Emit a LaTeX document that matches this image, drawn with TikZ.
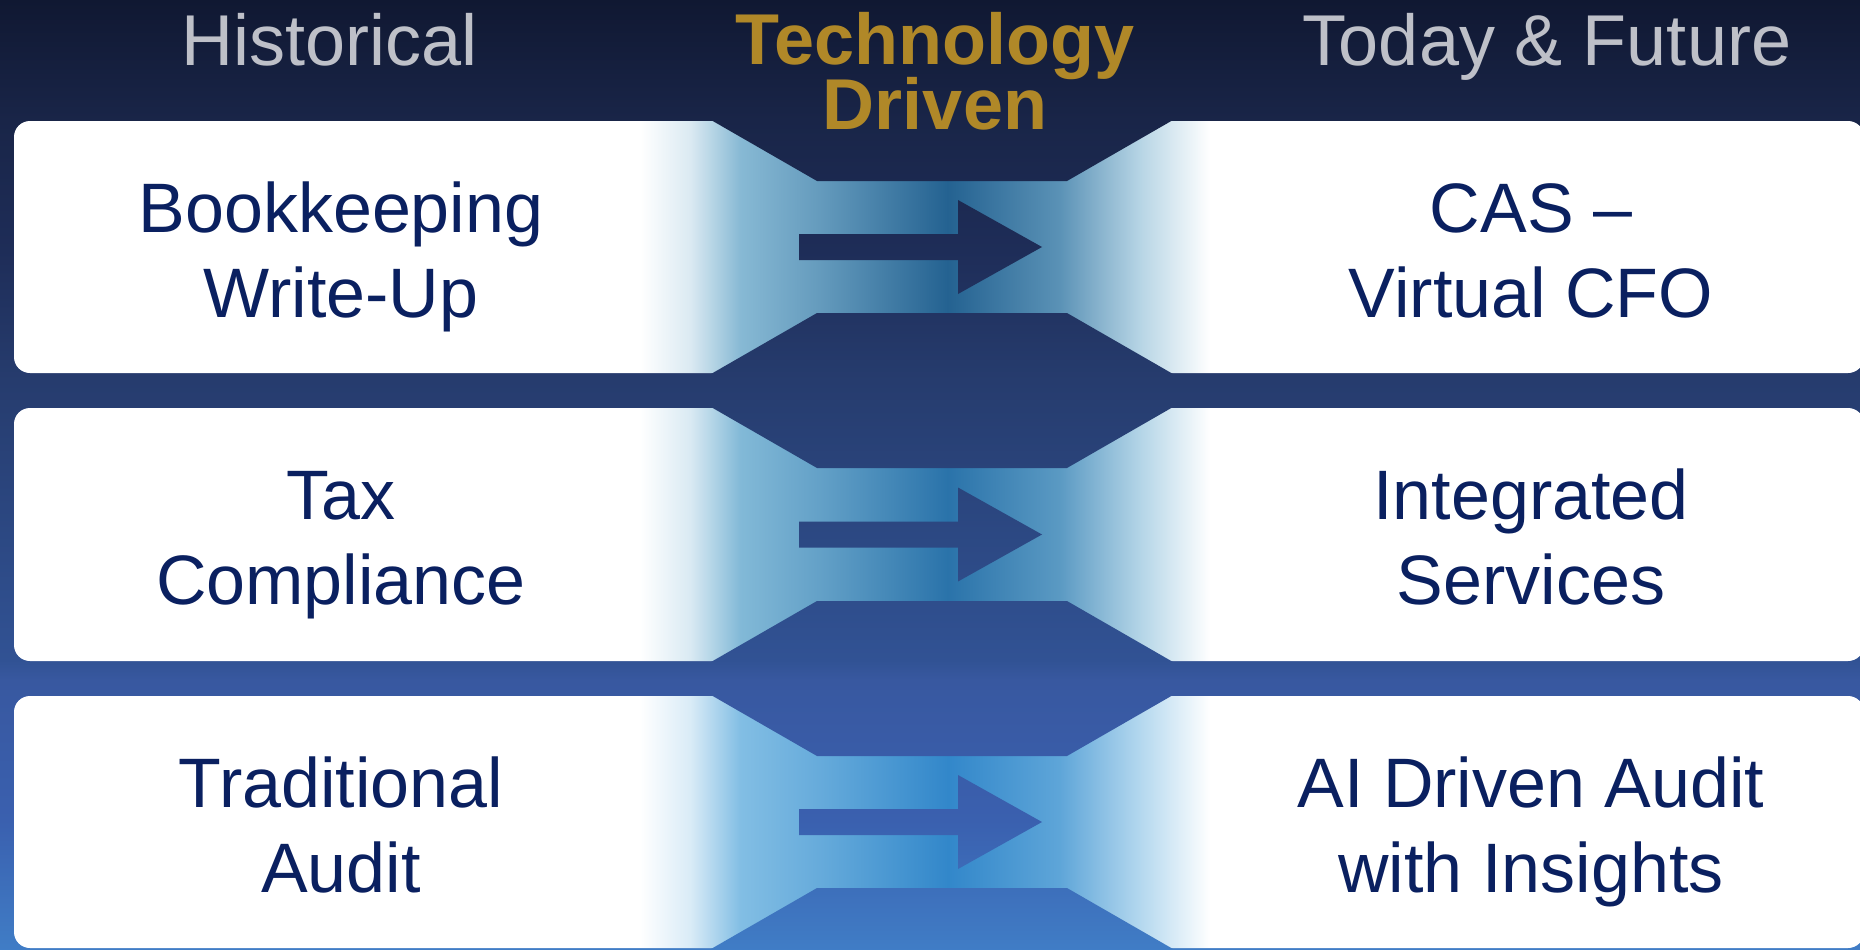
\documentclass[tikz,border=0pt]{standalone}
\usepackage{fontspec}
\setmainfont{Liberation Sans}
\definecolor{navytext}{RGB}{10,32,96}
\definecolor{goldtext}{RGB}{176,136,40}
\definecolor{hdrgray}{RGB}{190,192,200}
\definecolor{glowA}{RGB}{36,98,145}
\definecolor{lightA}{RGB}{135,185,212}
\definecolor{glowB}{RGB}{42,115,170}
\definecolor{lightB}{RGB}{130,185,215}
\definecolor{glowC}{RGB}{50,135,202}
\definecolor{lightC}{RGB}{130,190,228}
\pgfdeclareverticalshading{bgshade}{100bp}{rgb(0bp)=(.251,.490,.776); rgb(25bp)=(.251,.490,.776); rgb(31.84bp)=(.227,.376,.686); rgb(39.21bp)=(.220,.345,.627); rgb(40.26bp)=(.192,.322,.580); rgb(55bp)=(.149,.235,.431); rgb(61.84bp)=(.118,.176,.345); rgb(68.68bp)=(.098,.145,.282); rgb(75bp)=(.063,.094,.196); rgb(100bp)=(.063,.094,.196)}
\newcommand\declareband[3]{%
  \colorlet{#1a}{#3!30!white}%
  \colorlet{#1b}{#3}%
  \colorlet{#1c}{#2!35!#3}%
  \colorlet{#1d}{#2}%
  \colorlet{#1e}{#2!45!#3}%
  \colorlet{#1f}{#3!60!white}%
  \pgfdeclarehorizontalshading{#1}{100bp}{color(0bp)=(white); color(25bp)=(white); color(29.4bp)=(#1a); color(33.8bp)=(#1b); color(40.8bp)=(#1c); color(52bp)=(#1d); color(61.8bp)=(#1e); color(68.9bp)=(#1f); color(75bp)=(white); color(100bp)=(white)}}
\declareband{bandA}{glowA}{lightA}
\declareband{bandB}{glowB}{lightB}
\declareband{bandC}{glowC}{lightC}
\newcommand\cutpath[3]{(711,{#1-1}) -- (1173,{#1-1}) -- (1067,{#1+60}) -- (817,{#1+60}) -- cycle
 (711,{#2+1}) -- (1173,{#2+1}) -- (1067,{#2-60}) -- (817,{#2-60}) -- cycle
 (799,{#3-13}) -- (958,{#3-13}) -- (958,{#3-47}) -- (1042,{#3}) -- (958,{#3+47}) -- (958,{#3+13}) -- (799,{#3+13}) -- cycle}
\newcommand\twoln[3]{\vtop{\baselineskip=#1\lineskiplimit=-200pt\lineskip=0pt\halign{\hfil##\hfil\cr #2\cr #3\cr}}}
\begin{document}
\begin{tikzpicture}[x=1pt,y=-1pt,
  rowtext/.style={text=navytext, font=\fontsize{70}{85}\selectfont, inner sep=0pt, anchor=base},
  hdr/.style={text=hdrgray, font=\fontsize{72}{80}\selectfont, inner sep=0pt, anchor=base},
  techhdr/.style={text=goldtext, font=\fontsize{72}{66}\selectfont\bfseries, inner sep=0pt, anchor=base}]
\useasboundingbox (0,0) rectangle (1860,950);
\shade[shading=bgshade] (0,0) rectangle (1860,950);
\foreach \T/\B/\sh in {121/373/bandA, 408/661/bandB, 696/948/bandC}{
  \fill[white, rounded corners=16] (14,\T) rectangle (1864,\B);
  \shade[shading=\sh] (640,\T+0.8) rectangle (1210,\B-0.8);
}
\begin{scope}
  \clip \cutpath{121}{373}{247} \cutpath{408}{661}{534.5} \cutpath{696}{948}{822};
  \shade[shading=bgshade] (0,0) rectangle (1860,950);
\end{scope}
\node[hdr] (hist) at (330,66) {Historical};
\node[hdr] (today) at (1547,66) {Today \& Future};
\node[techhdr] (tech) at (935,64) {\twoln{66pt}{Technology}{Driven}};
\node[rowtext] (l1) at (341,232) {\twoln{85pt}{Bookkeeping}{Write-Up}};
\node[rowtext] (r1) at (1531,232) {\twoln{85pt}{CAS \textendash}{Virtual CFO}};
\node[rowtext] (l2) at (341,519.5) {\twoln{85pt}{Tax}{Compliance}};
\node[rowtext] (r2) at (1531,519.5) {\twoln{85pt}{Integrated}{Services}};
\node[rowtext] (l3) at (341,807) {\twoln{85pt}{Traditional}{Audit}};
\node[rowtext] (r3) at (1531,807) {\twoln{85pt}{AI Driven Audit}{with Insights}};
\end{tikzpicture}
\end{document}
